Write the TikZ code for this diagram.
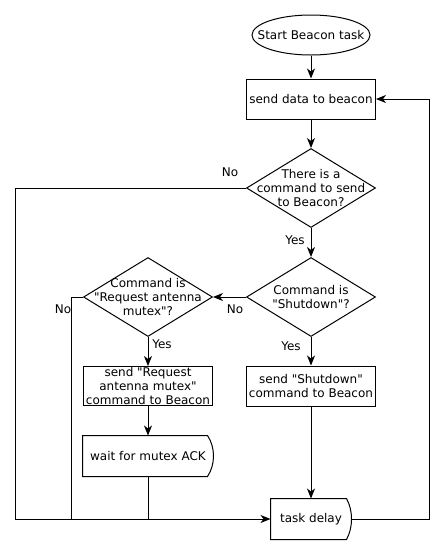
\documentclass[tikz,border=0pt]{standalone}
\usepackage{fontspec}
\setmainfont{DejaVu Sans}[Ligatures=TeXOff]
\usetikzlibrary{arrows.meta,shapes.geometric}
\begin{document}
\begin{tikzpicture}[x=1pt,y=-1pt,>={Stealth[length=10pt,width=8pt,inset=3pt]},line width=1pt,font=\fontsize{12}{14.4}\selectfont]
  \tikzstyle{start_node}=[ellipse,
                                    minimum width=118pt,
                                    minimum height=40pt,
                                    inner sep=0pt,
                                    draw=black]
  \tikzstyle{process}=[rectangle,
                                    minimum width=129pt,
                                    minimum height=40pt,
                                    inner sep=0pt,
                                    align=center,
                                    draw=black]
  \tikzstyle{decision}=[diamond,
                                    minimum width=129pt,
                                    minimum height=79pt,
                                    inner sep=0pt,
                                    draw=black]
  \tikzstyle{delay_node}=[rectangle,
                                    minimum height=40pt,
                                    inner sep=0pt]
  \tikzstyle{texto}=[inner sep=0pt]
  \useasboundingbox (0,0) rectangle (445,555);
  %Start
  \node[start_node,label={center:Start Beacon task}] (start) at (311,35) {};
  \node[process] (senddata) at (311,99) {send data to beacon};
  %Decisions
  \node[decision,label={[align=center]center:There is a\\command to send\\to Beacon?}] (cmdpending) at (311,188) {};
  \node[decision,label={[align=center]center:Command is\\"Shutdown"?}] (isshutdown) at (311,297) {};
  \node[decision,label={[align=center]center:Command is\\"Request antenna\\mutex"?}] (ismutex) at (148,297) {};
  %Commands
  \node[process] (sendshutdown) at (311,386) {send "Shutdown"\\command to Beacon};
  \node[process,minimum height=39pt] (sendmutex) at (148,386) {send "Request\\antenna mutex"\\command to Beacon};
  %Delays
  \node[delay_node,minimum width=130pt] (waitack) at (148,456) {wait for mutex ACK};
  \node[delay_node,minimum width=80pt] (taskdelay) at (311,519) {task delay};
  \foreach \n/\d/\c in {waitack/6/2,taskdelay/5/1.7}
    \draw (\n.north west) -- ([xshift=-\d pt]\n.north east)
      .. controls ([xshift=\c pt,yshift=-12pt]\n.north east) and ([xshift=\c pt,yshift=12pt]\n.south east) .. ([xshift=-\d pt]\n.south east)
      -- (\n.south west) -- cycle;
  %Labels
  \node[texto] (no1) at (230,172) {No};
  \node[texto] (yes1) at (295,240) {Yes};
  \node[texto] (no2) at (235,309) {No};
  \node[texto] (no3) at (63,309) {No};
  \node[texto] (yes2) at (162,344) {Yes};
  \node[texto] (yes3) at (291,346) {Yes};
  %Corners
  \coordinate (farleft) at (15,519);
  \coordinate (midleft) at (71,519);
  \coordinate (farright) at (429,99);

  \path[->] (start) edge (senddata)
        (senddata) edge (cmdpending)
        (cmdpending) edge (isshutdown)
        (isshutdown) edge (ismutex)
            edge (sendshutdown)
        (ismutex) edge (sendmutex)
        (sendmutex) edge (waitack)
        (sendshutdown) edge (taskdelay);
  \draw[->] (cmdpending.west) -| (farleft) -- (taskdelay.west);
  \draw (ismutex.west) -| (midleft);
  \draw (waitack.south) -- (waitack.south |- taskdelay.west);
  \draw[->] (taskdelay.east) -| (farright) -- (senddata.east);
\end{tikzpicture}
\end{document}
